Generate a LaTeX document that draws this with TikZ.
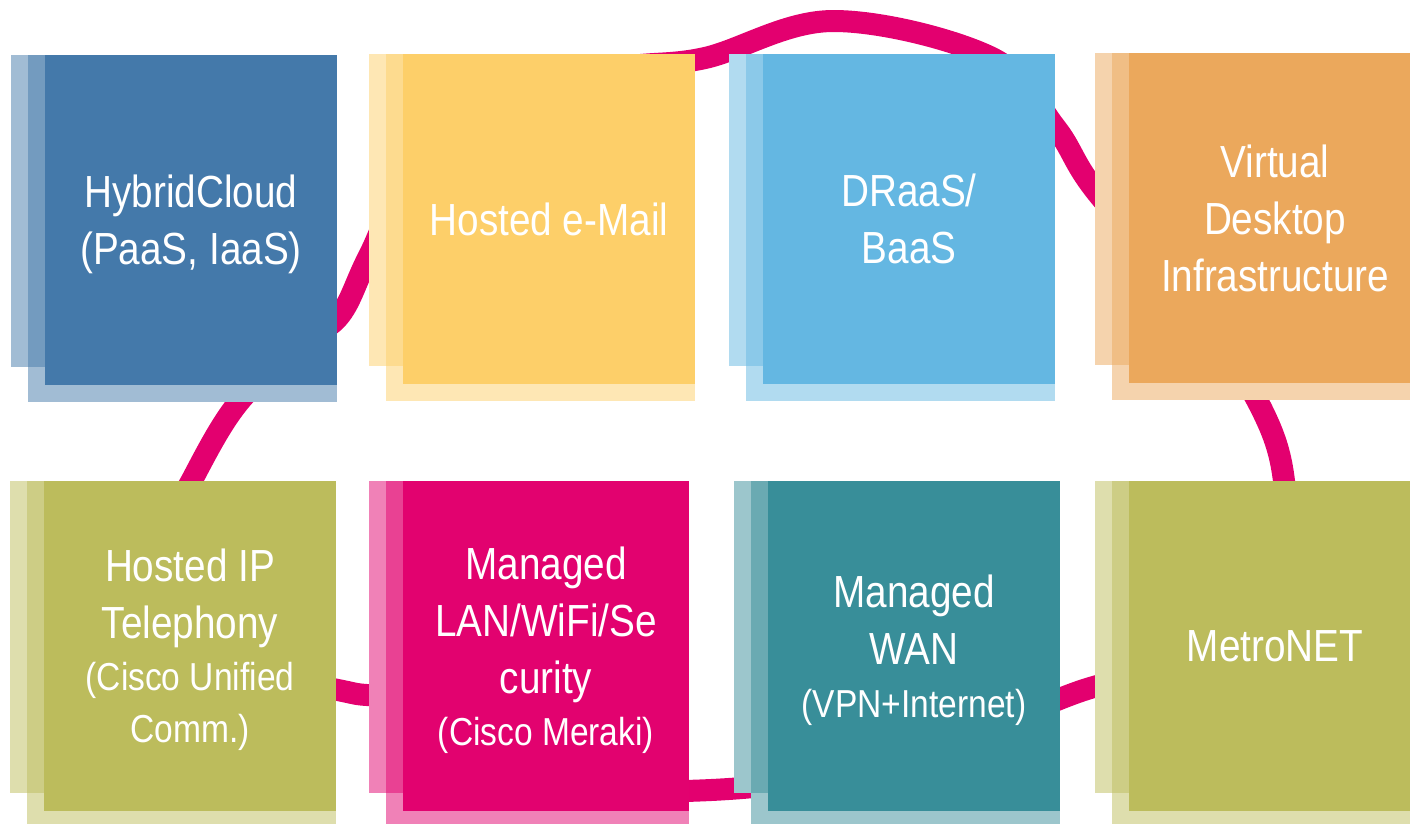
\documentclass[tikz,border=0pt]{standalone}
\usepackage{fontspec}
\setmainfont{Liberation Sans}[FakeStretch=0.86]
\usepackage{tikz}
\usetikzlibrary{backgrounds,calc}

\definecolor{cloudblue}{HTML}{4479AA}
\definecolor{mailyellow}{HTML}{FDCF69}
\definecolor{draasblue}{HTML}{64B7E2}
\definecolor{vdiorange}{HTML}{EBA85C}
\definecolor{olive}{HTML}{BCBC5C}
\definecolor{lanpink}{HTML}{E2026F}
\definecolor{wanteal}{HTML}{388E99}
\definecolor{ringpink}{HTML}{E3006F}

\newcommand{\smalltxt}[1]{{\fontsize{39}{52}\selectfont #1}}

\begin{document}
\begin{tikzpicture}[x=1pt,y=-1pt,
		tile/.style={minimum width=292pt,minimum height=330pt,inner sep=0pt,text depth=0pt,
			text=white,align=center,font=\fontsize{45}{57}\selectfont},
		ring/.style={draw=ringpink,line width=22pt}]
		\useasboundingbox (0,0) rectangle (1410,823);
		\clip (0,0) rectangle (1410,823);
		%
		\node[tile,fill=cloudblue] (cloud) at (191,220) {HybridCloud\\(PaaS, IaaS)};
		\node[tile,fill=mailyellow] (mail) at (549,219) {Hosted e-Mail};
		\node[tile,fill=draasblue] (draas) at (909,219) {DRaaS/\\BaaS};
		\node[tile,fill=vdiorange] (vdi) at (1275,218) {Virtual\\Desktop\\Infrastructure};
		\node[tile,fill=olive] (phone) at (190,646) {Hosted IP\\Telephony\\[-5pt]\smalltxt{(Cisco Unified}\\[-5pt]\smalltxt{Comm.)}};
		\node[tile,fill=lanpink,minimum width=286pt] (lan) at (546,646) {Managed\\LAN/WiFi/Se\\curity\\[-5pt]\smalltxt{(Cisco Meraki)}};
		\node[tile,fill=wanteal] (wan) at (914,646) {Managed\\WAN\\[-4pt]\smalltxt{(VPN+Internet)}};
		\node[tile,fill=olive] (metro) at (1275,646) {MetroNET};
		%
		\begin{scope}[on background layer]
		\draw[ring] plot[smooth cycle,tension=0.6] coordinates {
			(833,21) (990,57) (1055,127) (1095,190) (1190,300) (1258,402)
			(1284,481) (1280,580) (1190,660) (1078,692) (900,762) (711,790)
			(560,778) (420,705) (352,693) (290,675) (200,620) (160,550)
			(192,480) (238,403) (300,345) (340,315) (369,256) (420,160)
			(520,95) (620,68) (705,58)};
		\foreach \t/\c in {cloud/cloudblue,mail/mailyellow,draas/draasblue,vdi/vdiorange,
			phone/olive,lan/lanpink,wan/wanteal,metro/olive}
		{
			\fill[\c!50] ($(\t.north west)+(-34,0)$) rectangle ($(\t.south east)+(-17,-18)$);
			\fill[\c!50] ($(\t.north west)+(-17,0)$) rectangle ($(\t.south east)+(0,17)$);
			\fill[\c!75] ($(\t.north west)+(-17,0)$) rectangle ($(\t.south east)+(-17,-18)$);
		}
		\end{scope}
\end{tikzpicture}
\end{document}
